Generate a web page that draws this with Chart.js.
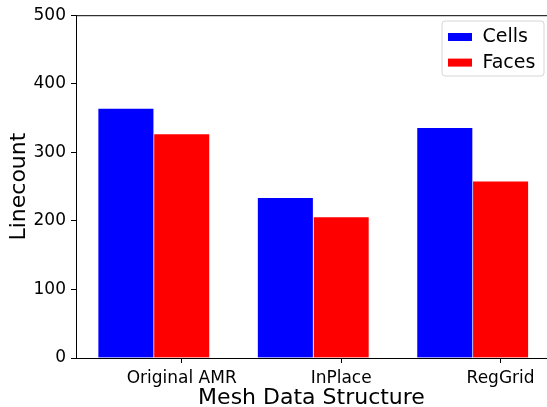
<!DOCTYPE html>
<html><head><meta charset="utf-8">
<script src="https://cdn.jsdelivr.net/npm/chart.js@4.4.1/dist/chart.umd.min.js"></script>
<style>html,body{margin:0;padding:0;background:#fff;overflow:hidden;} #wrap{width:547px;height:407px;}</style>
</head><body><div id="wrap"><canvas id="c" width="547" height="407"></canvas></div>
<script>
const categories = ['Original AMR', 'InPlace', 'RegGrid'];
const seriesNames = ['Cells', 'Faces'];
const cells = [364, 234, 336];
const faces = [327, 206, 258];
const yTicks = [0, 100, 200, 300, 400, 500];
const xTitle = 'Mesh Data Structure';
const yTitle = 'Linecount';

const BAR_W = 0.35;
const FONT = "'DejaVu Sans', 'Liberation Sans', sans-serif";

const framePlugin = {
  id: 'frame',
  afterDraw(chart) {
    const {ctx, chartArea} = chart;
    ctx.save();
    ctx.strokeStyle = '#000';
    ctx.lineWidth = 1;
    ctx.beginPath();
    ctx.moveTo(chartArea.left, chartArea.top + 0.5);
    ctx.lineTo(chart.width, chartArea.top + 0.5);
    ctx.stroke();
    ctx.restore();
  }
};

const legendPlugin = {
  id: 'mplLegend',
  afterDraw(chart) {
    const {ctx} = chart;
    const bx = chart.width - 105, by = 21, bw = 102, bh = 55, r = 3;
    ctx.save();
    ctx.beginPath();
    ctx.moveTo(bx + r, by);
    ctx.lineTo(bx + bw - r, by);
    ctx.arcTo(bx + bw, by, bx + bw, by + r, r);
    ctx.lineTo(bx + bw, by + bh - r);
    ctx.arcTo(bx + bw, by + bh, bx + bw - r, by + bh, r);
    ctx.lineTo(bx + r, by + bh);
    ctx.arcTo(bx, by + bh, bx, by + bh - r, r);
    ctx.lineTo(bx, by + r);
    ctx.arcTo(bx, by, bx + r, by, r);
    ctx.closePath();
    ctx.fillStyle = 'rgba(255,255,255,0.8)';
    ctx.fill();
    ctx.strokeStyle = '#d6d6d6';
    ctx.lineWidth = 1;
    ctx.stroke();
    ctx.font = '19px ' + FONT;
    ctx.textBaseline = 'alphabetic';
    ctx.textAlign = 'left';
    chart.data.datasets.forEach((ds, k) => {
      const rowY = by + 12 + k * 25.6;
      ctx.fillStyle = ds.backgroundColor;
      ctx.fillRect(bx + 6, rowY, 24, 8);
      ctx.fillStyle = '#000';
      ctx.fillText(ds.label, bx + 40.5, rowY + 9);
    });
    ctx.restore();
  }
};

new Chart(document.getElementById('c'), {
  type: 'bar',
  data: {
    datasets: [
      {
        label: seriesNames[0],
        data: cells.map((v, i) => ({x: i - BAR_W, y: v})),
        backgroundColor: '#0000ff',
        borderColor: '#ffffff',
        borderWidth: 0.7,
        grouped: false,
        barPercentage: 1,
        categoryPercentage: 1
      },
      {
        label: seriesNames[1],
        data: faces.map((v, i) => ({x: i, y: v})),
        backgroundColor: '#ff0000',
        borderColor: '#ffffff',
        borderWidth: 0.7,
        grouped: false,
        barPercentage: 1,
        categoryPercentage: 1
      }
    ]
  },
  options: {
    responsive: false,
    animation: false,
    devicePixelRatio: 1,
    layout: {padding: {top: 15, right: 0, left: 0, bottom: 0}},
    plugins: {legend: {display: false}, tooltip: {enabled: false}},
    scales: {
      x: {
        type: 'linear',
        offset: false,
        min: -0.663,
        max: 2.291,
        afterBuildTicks: (s) => { s.ticks = categories.map((c, i) => ({value: i})); },
        afterFit: (s) => { s.height = 49; },
        ticks: {
          callback: (v) => categories[v],
          font: {family: FONT, size: 17},
          color: '#000',
          padding: 5,
          maxRotation: 0,
          autoSkip: false
        },
        grid: {offset: false, drawOnChartArea: false, tickLength: 5, color: '#000', tickWidth: 1},
        border: {color: '#000', width: 1},
        title: {display: true, text: xTitle, color: '#000', font: {family: FONT, size: 22, lineHeight: 0.8}, padding: {top: 0, bottom: 0}}
      },
      y: {
        min: 0,
        max: 500,
        afterBuildTicks: (s) => { s.ticks = yTicks.map(v => ({value: v})); },
        afterFit: (s) => { s.width = 76; },
        ticks: {font: {family: FONT, size: 17}, color: '#000', padding: 5},
        grid: {drawOnChartArea: false, tickLength: 5, color: '#000', tickWidth: 1},
        border: {color: '#000', width: 1},
        title: {display: true, text: yTitle, color: '#000', font: {family: FONT, size: 22}, padding: {top: 6, bottom: 0}}
      }
    }
  },
  plugins: [framePlugin, legendPlugin]
});
</script>
</body></html>
